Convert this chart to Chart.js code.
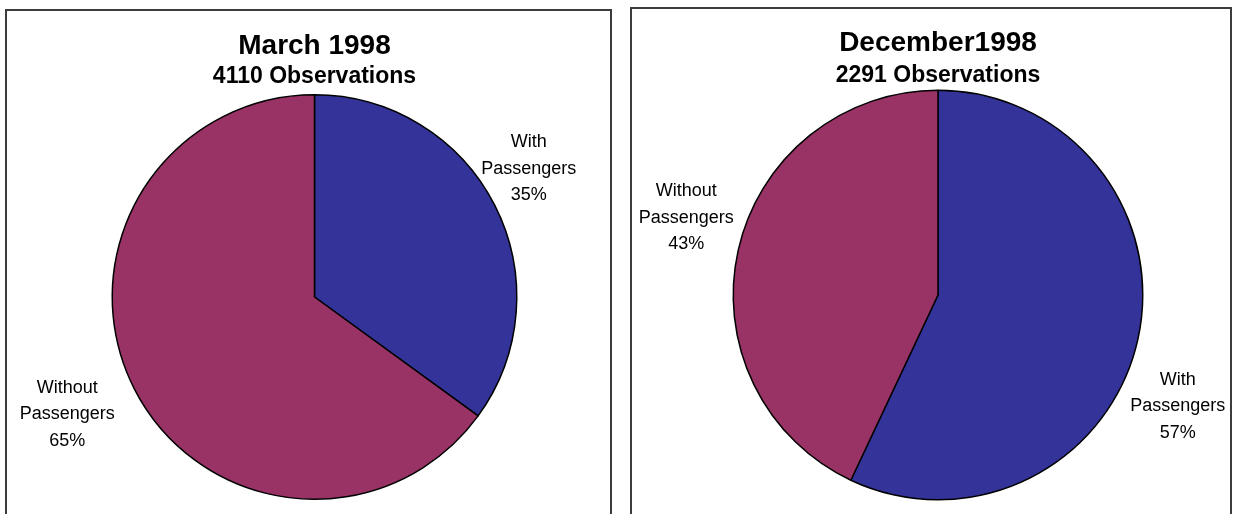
<!DOCTYPE html>
<html>
<head>
<meta charset="utf-8">
<script src="https://cdn.jsdelivr.net/npm/chart.js@4.4.1/dist/chart.umd.min.js"></script>
<style>
  body { margin: 0; background: #fff; overflow: hidden; }
  .panel { position: absolute; border: 2px solid #3c3c3c; background: #fff; }
  #p1 { left: 5px; top: 9px; width: 603px; height: 520px; }
  #p2 { left: 630px; top: 7px; width: 598px; height: 520px; }
  canvas { display: block; }
</style>
</head>
<body>
<div class="panel" id="p1"><canvas id="chart1" width="603" height="503"></canvas></div>
<div class="panel" id="p2"><canvas id="chart2" width="598" height="505"></canvas></div>
<script>
// slice order: With Passengers first (clockwise from 12 o'clock)
const categories = ['With Passengers', 'Without Passengers'];
const march1998 = [35, 65];
const december1998 = [57, 43];
const titles = ['March 1998', 'December1998'];
const subtitles = ['4110 Observations', '2291 Observations'];
const colors = ['#333399', '#993366'];

const FONT = '"Liberation Sans", Arial, sans-serif';

// draws "With / Passengers / 35%" outside each slice
const sliceLabels = {
    id: 'sliceLabels',
    afterDatasetsDraw(chart, args, opts) {
        const ctx = chart.ctx;
        const meta = chart.getDatasetMeta(0);
        const values = chart.data.datasets[0].data;
        const total = values.reduce((a, b) => a + b, 0);
        ctx.save();
        ctx.font = '18px ' + FONT;
        ctx.fillStyle = '#000';
        ctx.textAlign = 'center';
        ctx.textBaseline = 'middle';
        meta.data.forEach((arc, i) => {
            const p = arc.getProps(['x', 'y', 'startAngle', 'endAngle', 'outerRadius'], true);
            const mid = (p.startAngle + p.endAngle) / 2;
            const d = p.outerRadius * 1.3;
            const nudge = opts.nudge[i];
            const cx = p.x + Math.cos(mid) * d + nudge[0];
            const cy = p.y + Math.sin(mid) * d + nudge[1];
            const words = chart.data.labels[i].split(' ');
            const pct = Math.round(values[i] / total * 100) + '%';
            const lines = [words[0], words[1], pct];
            lines.forEach((t, j) => ctx.fillText(t, cx, cy + (j - 1) * 26.5));
        });
        ctx.restore();
    }
};

function makePie(id, values, title, subtitle, pad, titlePad, nudge) {
    new Chart(document.getElementById(id), {
        type: 'pie',
        data: {
            labels: categories,
            datasets: [{
                data: values,
                backgroundColor: colors,
                borderColor: '#000',
                borderWidth: 1.5
            }]
        },
        options: {
            responsive: false,
            animation: false,
            layout: { padding: pad },
            plugins: {
                legend: { display: false },
                tooltip: { enabled: false },
                title: {
                    display: true,
                    text: title,
                    color: '#000',
                    font: { family: FONT, size: 28, weight: 'bold', lineHeight: 1.2 },
                    padding: titlePad[0]
                },
                subtitle: {
                    display: true,
                    text: subtitle,
                    color: '#000',
                    font: { family: FONT, size: 23, weight: 'bold', lineHeight: 1.2 },
                    padding: titlePad[1]
                },
                sliceLabels: { nudge: nudge }
            }
        },
        plugins: [sliceLabels]
    });
}

makePie('chart1', march1998, titles[0], subtitles[0],
    { left: 104.5, right: 92.5, top: 0, bottom: 14 },
    [{ top: 18.2, bottom: 0 }, { top: 0, bottom: 3.6 }],
    [[-20, -9], [-13, -2]]);

makePie('chart2', december1998, titles[1], subtitles[1],
    { left: 100.5, right: 86.5, top: 0, bottom: 13.5 },
    [{ top: 17.2, bottom: 0 }, { top: 2.1, bottom: 0 }],
    [[-20, 53], [8, -19]]);
</script>
</body>
</html>
